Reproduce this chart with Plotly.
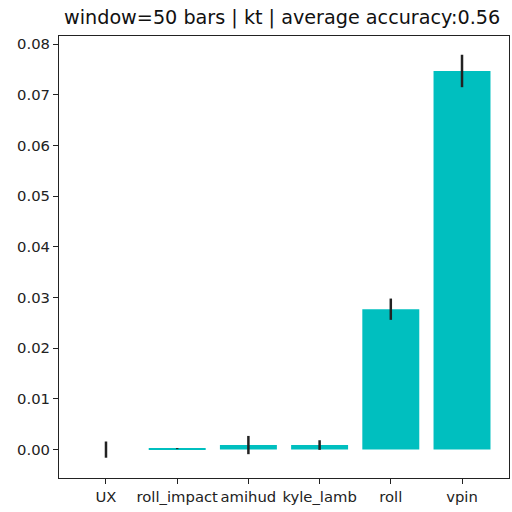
import plotly.graph_objects as go

categories = ["UX", "roll_impact", "amihud", "kyle_lamb", "roll", "vpin"]
values = [0.0, 0.0002, 0.0009, 0.0009, 0.0277, 0.0747]
errors = [0.0016, 0.0001, 0.0018, 0.00095, 0.0021, 0.0032]
title_text = "window=50 bars | kt | average accuracy:0.56"

fig = go.Figure()
fig.add_trace(go.Bar(
    x=list(range(len(categories))),
    y=values,
    width=0.8,
    marker=dict(color="#00BFBF", line=dict(width=0)),
    error_y=dict(type="data", array=errors, visible=True, color="#222222",
                 thickness=2.5, width=0),
))

fig.update_layout(
    width=512, height=512,
    margin=dict(l=58.7, r=3.3, t=35.7, b=34.3),
    paper_bgcolor="white", plot_bgcolor="white",
    font=dict(family="DejaVu Sans", color="#222222", size=14.8),
    title=dict(text=title_text, x=0.551, xanchor="center", y=0.966, yanchor="middle",
               font=dict(size=19.2, color="#111111")),
    showlegend=False,
)
fig.update_xaxes(
    range=[-0.66, 5.66], tickmode="array",
    tickvals=list(range(len(categories))), ticktext=categories,
    tickangle=0, showgrid=False, zeroline=False,
    showline=True, linecolor="#222222", linewidth=1, mirror=True,
    ticks="outside", ticklen=5, tickcolor="#222222",
    tickfont=dict(size=14.8),
)
fig.update_yaxes(
    range=[-0.0056, 0.0816], dtick=0.01, tick0=0, tickformat=".2f",
    showgrid=False, zeroline=False,
    showline=True, linecolor="#222222", linewidth=1, mirror=True,
    ticks="outside", ticklen=5, tickcolor="#222222",
    tickfont=dict(size=14.8),
)

fig.write_html(
    "out.html",
    config={"displayModeBar": False},
    post_script="document.body.style.margin='0';document.body.style.overflow='hidden';",
)
